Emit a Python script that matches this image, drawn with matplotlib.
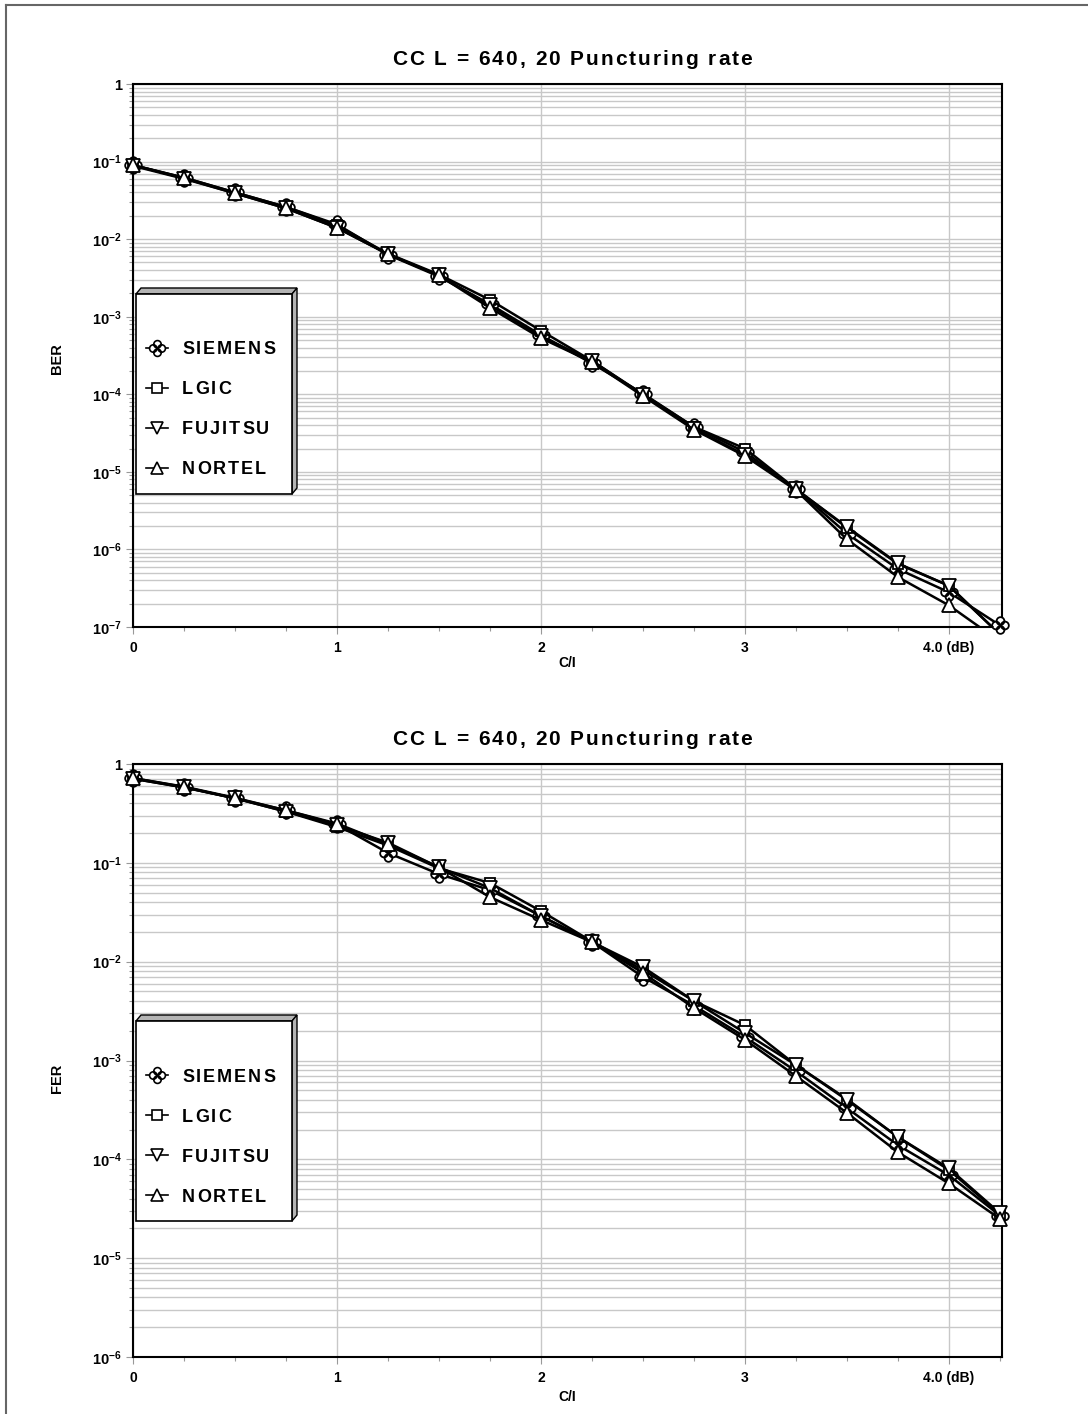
import numpy as np
import matplotlib
matplotlib.use("Agg")
import matplotlib.pyplot as plt
from matplotlib.path import Path
from matplotlib.patches import Polygon, Rectangle
from matplotlib.lines import Line2D
from matplotlib.ticker import FixedLocator, MultipleLocator, FuncFormatter, NullFormatter
from matplotlib.font_manager import FontProperties, findfont
from matplotlib.ft2font import FT2Font

plt.rcParams["font.family"] = ["Liberation Sans", "DejaVu Sans"]
plt.rcParams["font.weight"] = "bold"
plt.rcParams["mathtext.fontset"] = "custom"
plt.rcParams["mathtext.rm"] = "Liberation Sans:bold"
plt.rcParams["mathtext.bf"] = "Liberation Sans:bold"
plt.rcParams["mathtext.it"] = "Liberation Sans:bold"

W, H, DPI = 1088, 1414, 100

# C/I in dB
ci = [0, 0.25, 0.5, 0.75, 1.0, 1.25, 1.5, 1.75, 2.0, 2.25, 2.5, 2.75, 3.0, 3.25, 3.5, 3.75, 4.0, 4.25]

names = ["SIEMENS", "LGIC", "FUJITSU", "NORTEL"]

ber_siemens = [0.090, 0.062, 0.040, 0.026, 0.0155, 0.0063, 0.0033, 1.45e-3, 5.8e-4, 2.5e-4, 1.02e-4,
               3.8e-5, 1.8e-5, 6.0e-6, 1.6e-6, 5.6e-7, 2.8e-7, 1.05e-7]
ber_lgic = [0.090, 0.062, 0.040, 0.026, 0.015, 0.0065, 0.0035, 1.65e-3, 6.6e-4, 2.7e-4, 1.0e-4,
            3.8e-5, 2.0e-5, 6.0e-6, 1.9e-6, 6.5e-7, 3.4e-7, 8.0e-8]
ber_fujitsu = [0.088, 0.060, 0.039, 0.025, 0.014, 0.0064, 0.0034, 1.4e-3, 5.6e-4, 2.7e-4, 9.8e-5,
               3.6e-5, 1.65e-5, 6.0e-6, 1.95e-6, 6.6e-7, 3.4e-7, 8.0e-8]
ber_nortel = [0.090, 0.061, 0.039, 0.025, 0.014, 0.0064, 0.0034, 1.3e-3, 5.3e-4, 2.6e-4, 9.5e-5,
              3.5e-5, 1.6e-5, 5.8e-6, 1.35e-6, 4.4e-7, 1.9e-7, 6.5e-8]

fer_siemens = [0.72, 0.585, 0.45, 0.34, 0.245, 0.126, 0.077, 0.053, 0.029, 0.0158, 0.0070,
               0.0036, 1.73e-3, 7.8e-4, 3.3e-4, 1.39e-4, 6.9e-5, 2.7e-5]
fer_lgic = [0.71, 0.58, 0.45, 0.33, 0.23, 0.15, 0.088, 0.0625, 0.0325, 0.016, 0.0082,
            0.0040, 2.28e-3, 9.0e-4, 4.07e-4, 1.68e-4, 7.8e-5, 2.8e-5]
fer_fujitsu = [0.71, 0.58, 0.45, 0.33, 0.24, 0.16, 0.090, 0.0556, 0.029, 0.0158, 0.0088,
               0.0040, 1.9e-3, 9.0e-4, 3.98e-4, 1.68e-4, 8.1e-5, 2.85e-5]
fer_nortel = [0.72, 0.59, 0.455, 0.34, 0.25, 0.155, 0.090, 0.045, 0.0264, 0.0158, 0.0077,
              0.0034, 1.62e-3, 6.95e-4, 2.95e-4, 1.18e-4, 5.7e-5, 2.5e-5]

title = "CC L = 640, 20 Puncturing rate"
xtick_labels = ["0", "1", "2", "3", "4.0 (dB)"]


def clover_path():
    pts = [(0, 0.55), (0.55, 0), (0, -0.55), (-0.55, 0)]
    return Path.make_compound_path(*[Path.circle(p, 0.48) for p in pts])


CLOVER = clover_path()
markers = [(CLOVER, 12), ("s", 7.5), ("v", 9.5), ("^", 9.5)]


def ytick_fmt(v, pos):
    e = int(round(np.log10(v)))
    if e == 0:
        return "1"
    return r"$\mathbf{10^{%d}}$" % e


def draw_panel(ax, series, ndec, ylabel, height_px, xlab_px, ylab_frac):
    ylo = 10.0 ** -ndec
    for i, (vals, (mk, ms)) in enumerate(zip(series, markers)):
        ax.plot(ci, vals, color="black", lw=1.8, zorder=3 + i)
        shown = [v if v >= ylo else np.nan for v in vals]
        ax.plot(ci, shown, ls="none", marker=mk, ms=ms, mfc="white", mec="black",
                mew=1.3, clip_on=False, zorder=3 + i)
    ax.set_yscale("log")
    ax.set_ylim(ylo, 1)
    ax.set_xlim(0, 4.26)
    ax.set_xticks([0, 1, 2, 3, 4])
    ax.set_xticklabels(xtick_labels)
    ax.xaxis.set_minor_locator(MultipleLocator(0.25))
    decades = [10.0 ** -k for k in range(ndec + 1)]
    minors = [m * d for d in decades[1:] for m in range(2, 10)]
    ax.yaxis.set_major_locator(FixedLocator(decades))
    ax.yaxis.set_minor_locator(FixedLocator(minors))
    ax.yaxis.set_major_formatter(FuncFormatter(ytick_fmt))
    ax.yaxis.set_minor_formatter(NullFormatter())
    ax.grid(which="major", axis="x", color="#c8c8c8", lw=1.0, zorder=0)
    ax.grid(which="both", axis="y", color="#c8c8c8", lw=1.0, zorder=0)
    ax.set_axisbelow(True)
    ax.tick_params(axis="y", which="major", length=5, width=0.8, color="#999999",
                   labelsize=10.5, pad=3)
    ax.tick_params(axis="x", which="major", length=5, width=0.8, color="#999999",
                   labelsize=10, pad=5)
    ax.tick_params(axis="both", which="minor", length=3, width=0.8, color="#999999")
    for s in ax.spines.values():
        s.set_linewidth(1.5)
        s.set_color("black")
    ax.set_xlabel("C/I", fontsize=10, fontweight="bold")
    ax.set_ylabel(ylabel, fontsize=10.5, fontweight="bold")
    ax.xaxis.set_label_coords(0.5, -xlab_px / height_px)
    ax.yaxis.set_label_coords(-0.079, ylab_frac)


fig = plt.figure(figsize=(W / DPI, H / DPI), dpi=DPI)

ax1 = fig.add_axes([133 / W, 1 - 627 / H, 869 / W, 543 / H])
draw_panel(ax1, [ber_siemens, ber_lgic, ber_fujitsu, ber_nortel], 7, "BER", 543, 29, 0.495)

ax2 = fig.add_axes([133 / W, 1 - 1357 / H, 869 / W, 593 / H])
draw_panel(ax2, [fer_siemens, fer_lgic, fer_fujitsu, fer_nortel], 6, "FER", 593, 33, 0.47)

# overlay in pixel coordinates for frame, titles and legends
ov = fig.add_axes([0, 0, 1, 1], zorder=20)
ov.set_xlim(0, W)
ov.set_ylim(H, 0)
ov.axis("off")
ov.patch.set_alpha(0)

ov.add_line(Line2D([6, W], [5, 5], color="#666666", lw=1.5))
ov.add_line(Line2D([6, 6], [5, H], color="#666666", lw=1.5))

bold_fp = FontProperties(family="Liberation Sans", weight="bold")
ft = FT2Font(findfont(bold_fp))


def advances(s, size):
    ft.set_size(size, DPI)
    return [ft.load_char(ord(c)).linearHoriAdvance / 65536 for c in s]


def spaced_text(x, y, s, size, spacing, ha="left"):
    adv = advances(s, size)
    total = sum(adv) + spacing * (len(s) - 1)
    if ha == "center":
        x = x - total / 2
    for c, a in zip(s, adv):
        ov.text(x, y, c, fontsize=size, fontweight="bold", va="baseline", ha="left")
        x += a + spacing


for off in (0, 680):
    spaced_text(572, 65 + off, title, 15, 2.0, ha="center")

for off in (0, 727):
    top, bot, left, right, d = 294 + off, 494 + off, 136, 292, 5
    ov.add_patch(Polygon([(left, top), (left + d, top - 6), (right + d, top - 6), (right, top)],
                         closed=True, fc="#b4b4b4", ec="black", lw=1.0))
    ov.add_patch(Polygon([(right, top), (right + d, top - 6), (right + d, bot - 6), (right, bot)],
                         closed=True, fc="#b4b4b4", ec="black", lw=1.0))
    ov.add_patch(Rectangle((left, top), right - left, bot - top, fc="white", ec="black", lw=1.2))
    for k, (name, (mk, ms)) in enumerate(zip(names, markers)):
        yc = 348 + off + 40 * k
        ov.add_line(Line2D([146, 168], [yc, yc], color="black", lw=1.2))
        ov.add_line(Line2D([157], [yc], ls="none", marker=mk, ms=ms * 0.95, mfc="white",
                           mec="black", mew=1.2))
        spaced_text(182, yc + 6.5, name, 13, 2.0)

fig.savefig("out.png", dpi=DPI)
